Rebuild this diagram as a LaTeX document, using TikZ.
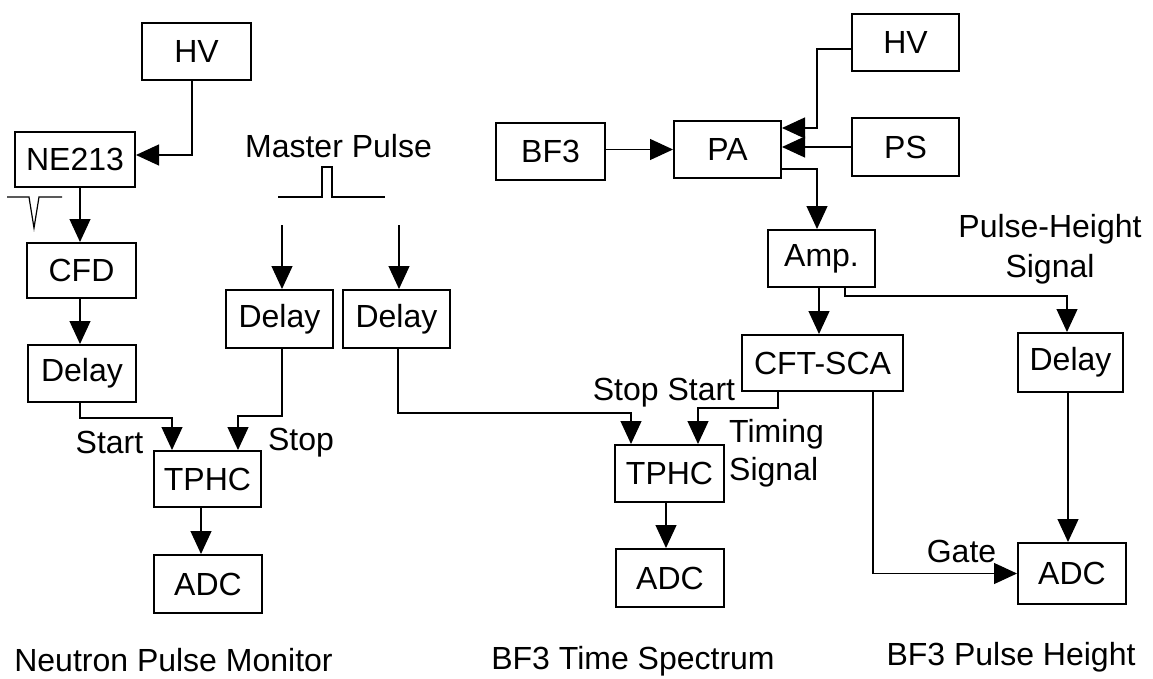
\documentclass[tikz,border=0pt]{standalone}
\usepackage{fontspec}
\setmainfont{Liberation Sans}
\usetikzlibrary{arrows.meta,calc}
\begin{document}
\begin{tikzpicture}[x=1pt,y=-1pt,
  box/.style={draw, line width=2pt, inner sep=0pt, font=\fontsize{32}{38}\selectfont},
  lbl/.style={inner sep=0pt, font=\fontsize{32}{38}\selectfont},
  arr/.style={line width=1.2pt, -{Triangle[width=21pt,length=23pt]}},
  wire/.style={line width=1.2pt}]
\useasboundingbox (0,0) rectangle (1153,679);
% ---- boxes
\node[box, minimum width=109, minimum height=57] (hvL)   at (196.5,51.5) {HV};
\node[box, minimum width=120, minimum height=55] (ne)    at (75,159.5)   {NE213};
\node[box, minimum width=109, minimum height=55] (cfd)   at (81.5,270.5) {CFD};
\node[box, minimum width=108, minimum height=57] (dlyL)  at (82,373.5)   {Delay};
\node[box, minimum width=107, minimum height=56] (tphcL) at (207.5,479)  {TPHC};
\node[box, minimum width=108, minimum height=58] (adcL)  at (208,584)    {ADC};
\node[box, minimum width=107, minimum height=58] (dlyM1) at (279.5,319)  {Delay};
\node[box, minimum width=107, minimum height=58] (dlyM2) at (396.5,319)  {Delay};
\node[box, minimum width=109, minimum height=57] (bf3)   at (550.5,151.5) {BF3};
\node[box, minimum width=107, minimum height=57] (pa)    at (727.5,149.5) {PA};
\node[box, minimum width=107, minimum height=57] (hvR)   at (905.5,42.5)  {HV};
\node[box, minimum width=107, minimum height=58] (ps)    at (905.5,147)   {PS};
\node[box, minimum width=107, minimum height=57] (amp)   at (821.5,258.5) {Amp.};
\node[box, minimum width=161, minimum height=56] (cft)   at (822.5,363)   {CFT-SCA};
\node[box, minimum width=105, minimum height=59] (dlyR)  at (1070.5,362.5) {Delay};
\node[box, minimum width=109, minimum height=57] (tphcM) at (669.5,473.5) {TPHC};
\node[box, minimum width=108, minimum height=58] (adcM)  at (670,578)     {ADC};
\node[box, minimum width=108, minimum height=61] (adcR)  at (1072,573.5)  {ADC};
% ---- labels
\node[lbl, anchor=base] (tStart) at (109.5,453) {Start};
\node[lbl, anchor=base] (tStop)  at (301,450)   {Stop};
\node[lbl, anchor=base] (tMaster) at (338.5,158) {Master Pulse};
\node[lbl, anchor=base] (tStopStart) at (664,400) {Stop Start};
\node[lbl, anchor=north west, align=left] (tTiming) at (729,419) {Timing\\Signal};
\node[lbl, anchor=north, align=center, font=\fontsize{32}{40}\selectfont] (tPH) at (1050,214) {Pulse-Height\\Signal};
\node[lbl, anchor=base] (tGate) at (961.5,562) {Gate};
\node[lbl, anchor=base] (tNPM) at (173.5,671) {Neutron Pulse Monitor};
\node[lbl, anchor=base] (tBTS) at (633,669) {BF3 Time Spectrum};
\node[lbl, anchor=base] (tBPH) at (1011,665) {BF3 Pulse Height};
% ---- pulse shapes
\draw[wire] (7,197) -- (29,197) -- (34,228) -- (39,197) -- (62,197);
\draw[wire] (278,197) -- (322,197) -- (322,167) -- (332,167) -- (332,197) -- (385,197);
% ---- connectors, left
\draw[arr] ([xshift=-4.5pt]hvL.south) |- ([yshift=4.5pt]ne.east);
\draw[arr] ([xshift=5pt]ne.south) -- ([xshift=5pt]ne.south |- cfd.north);
\draw[arr] ([xshift=-1.5pt]cfd.south) -- ([xshift=-1.5pt]cfd.south |- dlyL.north);
\draw[arr] ([xshift=-2pt]dlyL.south) -- ++(0,15) -| ([xshift=-35.5pt]tphcL.north);
\draw[arr] ([xshift=2.5pt]dlyM1.south) -- ++(0,67) -| ([xshift=30.5pt]tphcL.north);
\draw[arr] ([xshift=-6.5pt]tphcL.south) -- ([xshift=-6.5pt]tphcL.south |- adcL.north);
\coordinate (m1) at (282,225);
\coordinate (m2) at (399,225);
\draw[arr] (m1) -- (m1 |- dlyM1.north);
\draw[arr] (m2) -- (m2 |- dlyM2.north);
% ---- connectors, middle / right
\draw[arr] ([xshift=1.5pt]dlyM2.south) -- ++(0,64) -| ([xshift=-38.5pt]tphcM.north);
\draw[arr] ([yshift=2pt]bf3.east) -- ([yshift=2pt]bf3.east -| pa.west);
\coordinate (hvk) at (817,128);
\draw[arr] ([yshift=-6.5pt]hvR.west) -| (hvk) -- (hvk -| pa.east);
\draw[arr] (ps.west) -- (ps.west -| pa.east);
\draw[arr] ([yshift=-19.5pt]pa.east) -| ([xshift=-4.5pt]amp.north);
\draw[arr] ([xshift=-2.5pt]amp.south) -- ([xshift=-2.5pt]amp.south |- cft.north);
\draw[arr] ([xshift=23.5pt]amp.south) -- ++(0,8) -| ([xshift=-3.5pt]dlyR.north);
\draw[arr] ([xshift=-44.5pt]cft.south) -- ++(0,16) -| ([xshift=28.5pt]tphcM.north);
\draw[arr] ([xshift=50.5pt]cft.south) |- (adcR.west);
\draw[arr] ([xshift=-2.5pt]dlyR.south) -- ([xshift=-2.5pt]dlyR.south |- adcR.north);
\draw[arr] ([xshift=-3.5pt]tphcM.south) -- ([xshift=-3.5pt]tphcM.south |- adcM.north);
\end{tikzpicture}
\end{document}
